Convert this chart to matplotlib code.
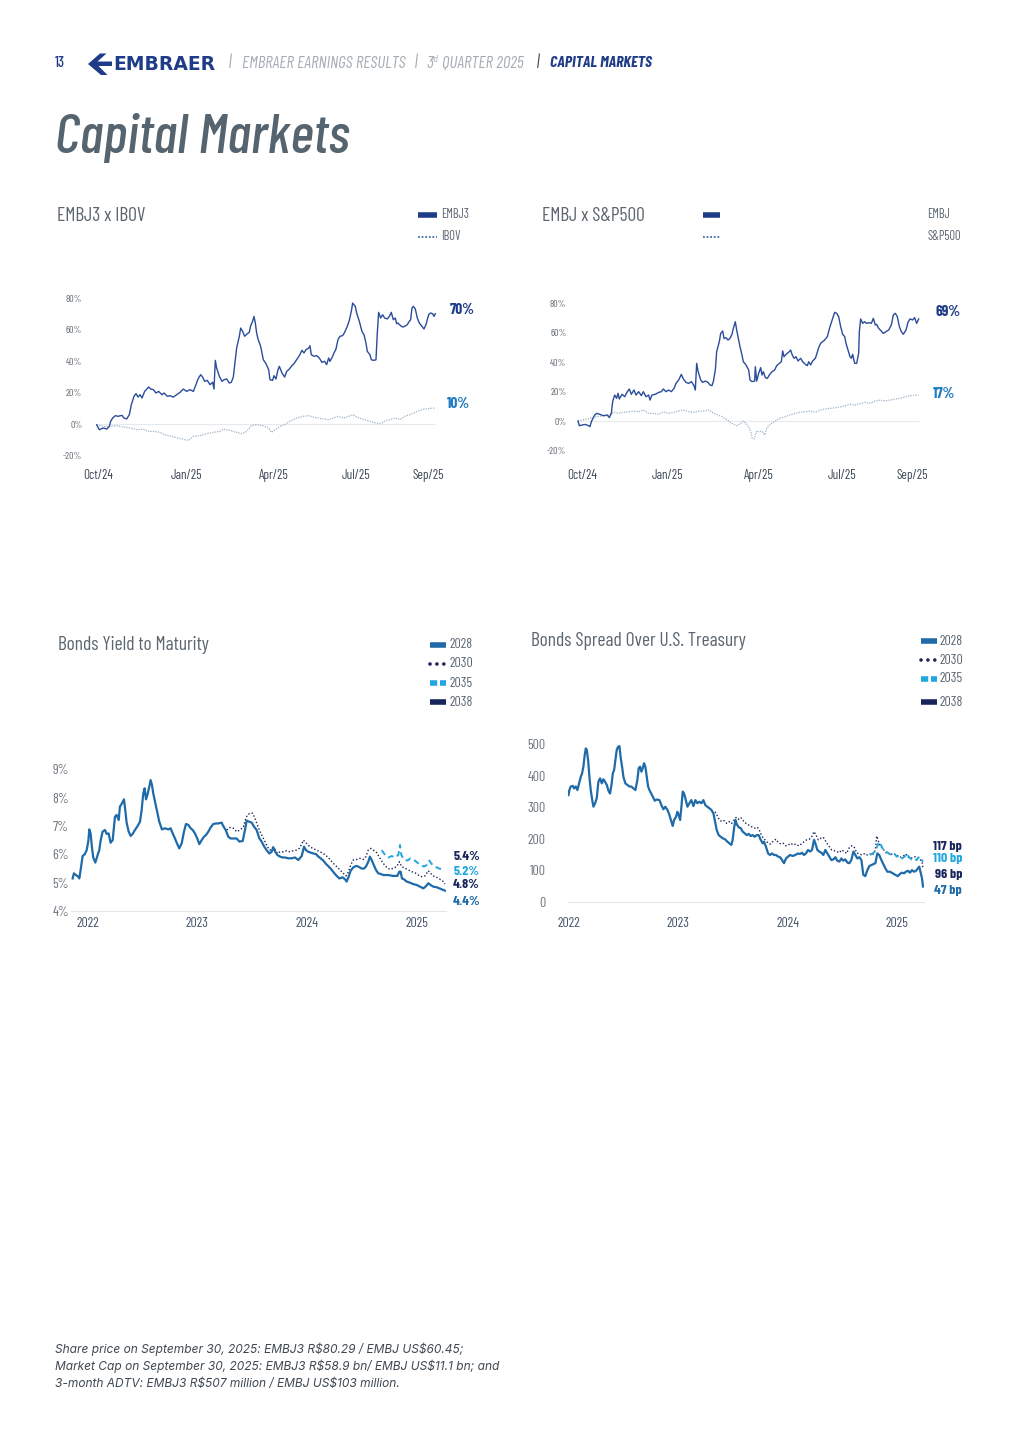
import matplotlib
matplotlib.use('Agg')
import matplotlib.pyplot as plt
from matplotlib import font_manager as fm
from matplotlib.lines import Line2D
from matplotlib.patches import Polygon

# share performance: trading-day index since Oct/24, % change
embj3_day = [0, 2, 5, 7.5, 9.5, 10.5, 12, 14, 16, 19,
             20.5, 22.5, 24.5, 26, 28, 29.5, 31, 32.5, 34, 36,
             39, 40.5, 42.5, 44.5, 46.5, 49, 50.5, 53, 55, 57.5,
             60, 62.5, 65, 67.5, 70, 72.5, 74.5, 76, 78, 79.5,
             81, 83, 85, 87, 88, 89, 90, 92, 94, 95.5,
             97.5, 99.5, 101, 102.5, 104, 105, 107, 108, 109.5, 111,
             113, 114.5, 115.5, 117, 118, 119, 120, 121, 123, 125,
             127, 129, 130, 132, 133, 134.5, 136, 137, 139, 141,
             142.5, 144.5, 146, 148, 150, 152, 154, 155.5, 157, 159,
             160, 161, 163, 165, 167, 169, 171, 172.5, 174, 175,
             177, 178, 179.5, 181, 182.5, 184.5, 186, 188, 189.5, 191,
             192, 194, 195, 197, 199, 200.5, 202, 203, 205, 206,
             208, 209.5, 210.5, 211.5, 213, 214.5, 216, 218, 219.5, 221,
             222.5, 224, 225, 226, 228, 229.5, 231, 233, 234.5, 235.5,
             236.5, 237.5, 239, 240.5, 242, 244, 245.5, 247, 249, 250.5,
             252, 253, 254]
embj3_pct = [-0.5, -3.6, -2.5, -3.2, -1.5, 1.7, 3.8, 5.3, 4.9, 5.5,
             3.8, 3.2, 5.9, 12.3, 17.6, 19.3, 17.1, 18.6, 16.5, 20.7,
             23.5, 22.2, 21.8, 19.7, 20.7, 18.6, 19.7, 17.6, 18.0, 17.1,
             18.6, 20.1, 22.2, 20.7, 21.8, 20.7, 25.0, 28.6, 31.3, 29.8,
             27.1, 27.7, 25.0, 26.5, 22.2, 40.4, 35.5, 30.3, 27.1, 28.1,
             28.6, 26.0, 26.5, 29.8, 40.8, 48.2, 55.7, 60.9, 58.8, 55.7,
             57.3, 58.2, 62.4, 65.2, 68.3, 64.1, 57.8, 54.0, 49.3, 40.8,
             38.3, 34.5, 28.1, 27.7, 30.7, 28.6, 34.5, 36.6, 32.4, 29.8,
             33.4, 34.9, 36.6, 38.3, 40.8, 43.4, 46.8, 45.1, 47.2, 48.2,
             49.7, 44.0, 43.0, 43.4, 41.9, 39.1, 39.8, 37.7, 41.9, 39.8,
             43.0, 45.1, 47.6, 53.5, 55.7, 56.1, 58.2, 62.0, 65.8, 71.5,
             76.8, 74.7, 70.5, 65.2, 58.8, 56.7, 51.4, 46.1, 44.0, 40.8,
             40.4, 40.8, 57.8, 70.9, 67.3, 69.4, 67.3, 66.7, 68.3, 70.9,
             66.2, 67.3, 63.7, 64.1, 62.4, 61.6, 62.0, 63.1, 65.2, 66.2,
             73.6, 74.7, 73.0, 67.3, 64.1, 62.0, 60.3, 63.1, 69.4, 70.5,
             70.0, 68.3, 70.0]

ibov_day = [0, 5, 10, 15, 20, 25, 30, 35, 39, 42.5,
            47.5, 51, 56, 61, 66, 69, 72.5, 77.5, 82.5, 87.5,
            92.5, 95, 100, 105, 109, 112.5, 116, 120, 125, 129,
            131, 134, 137.5, 141, 145, 150, 155, 159, 162.5, 166,
            170, 174, 177.5, 181, 185, 189, 192.5, 195, 199, 202.5,
            207.5, 212.5, 216, 220, 224, 227.5, 231, 235, 239, 242.5,
            246, 250, 254]
ibov_pct = [-0.4, -1.5, -1.5, -1.1, -1.9, -2.5, -3.6, -3.2, -4.7, -4.7,
            -5.3, -6.8, -7.8, -8.9, -9.9, -10.4, -7.8, -7.4, -6.1, -5.3,
            -4.7, -3.2, -4.0, -5.3, -6.1, -4.7, -1.1, -0.4, -1.1, -2.5,
            -5.3, -3.6, -1.5, -0.4, 1.7, 3.8, 4.9, 5.3, 4.4, 3.8,
            3.2, 2.8, 3.8, 4.9, 3.8, 4.9, 5.9, 4.4, 3.2, 2.3,
            1.1, 0.2, 1.7, 2.8, 3.8, 2.8, 4.9, 5.9, 7.4, 8.7,
            9.5, 9.9, 10.2]

embj_day = [0, 1, 3, 5.5, 8, 9, 10, 11, 12.5, 14,
            16.5, 19, 22, 23.5, 25, 26, 27.5, 29, 30, 31,
            33, 35, 37, 38.5, 40, 42, 43.5, 45.5, 47.5, 49,
            51, 53, 54, 55.5, 58, 60.5, 62.5, 64, 66, 68,
            70, 72, 73.5, 75.5, 77.5, 79, 81, 83, 85, 87,
            88, 89, 90, 92, 93.5, 95.5, 97.5, 99, 100.5, 101.5,
            103, 104, 106, 107, 108.5, 109.5, 111, 112.5, 114, 115.5,
            116.5, 118, 119, 120.5, 121.5, 123, 124, 126, 128, 129,
            130.5, 132.5, 133, 134, 135.5, 137, 138, 139, 140.5, 142,
            143.5, 145.5, 147.5, 149, 151, 152.5, 153.5, 154.5, 156, 158,
            159.5, 160.5, 162, 163.5, 165, 167, 168.5, 170.5, 172, 173,
            174.5, 176, 178, 179, 180.5, 182, 183.5, 185, 187, 188,
            189, 191, 192.5, 194, 195.5, 197, 198.5, 200, 201, 202.5,
            204, 205, 206, 207.5, 209, 210.5, 211, 212, 213.5, 215,
            216.5, 218.5, 220, 221.5, 223, 224, 225.5, 227.5, 229, 231,
            233, 235, 236.5, 238, 239.5, 241, 242.5, 244, 246, 247.5,
            249, 251, 252.5, 254, 255.5]
embj_pct = [0, -3.2, -2.7, -2.3, -3.2, -3.8, -0.5, 1.4, 4.1, 5.2,
            4.5, 3.6, 4.1, 2.3, 5.2, 13.1, 17.6, 15.4, 18.8, 14.9,
            18.1, 16.5, 19.9, 21.7, 18.1, 21.0, 17.6, 19.9, 17.2, 19.9,
            16.5, 17.6, 14.2, 17.6, 18.1, 19.4, 19.9, 21.7, 19.9, 21.0,
            19.9, 22.1, 25.5, 27.8, 31.6, 28.5, 26.2, 25.5, 26.7, 24.0,
            21.0, 39.1, 33.9, 27.8, 26.2, 27.1, 26.2, 24.4, 24.0, 26.7,
            34.6, 47.0, 53.8, 59.4, 61.0, 56.0, 56.5, 54.9, 56.0, 58.8,
            62.8, 67.3, 61.7, 54.9, 50.4, 44.7, 40.2, 38.0, 34.6, 27.8,
            26.7, 27.1, 36.8, 27.1, 32.3, 36.2, 31.2, 33.4, 29.4, 28.9,
            31.2, 33.4, 34.6, 37.5, 39.1, 40.2, 47.5, 43.6, 45.2, 46.6,
            48.1, 45.2, 42.5, 43.6, 40.7, 42.5, 40.2, 38.4, 37.5, 40.2,
            38.0, 40.7, 42.5, 45.2, 49.7, 52.7, 53.8, 54.9, 57.2, 60.6,
            64.0, 69.6, 73.7, 73.0, 70.7, 64.0, 58.8, 57.2, 52.7, 48.1,
            43.6, 42.5, 45.2, 39.1, 39.1, 45.9, 60.6, 69.2, 66.2, 67.3,
            66.2, 66.7, 66.2, 69.6, 65.1, 65.5, 62.8, 61.0, 59.4, 60.6,
            61.7, 65.1, 71.9, 73.0, 70.7, 64.0, 60.6, 58.8, 61.7, 66.9,
            69.2, 68.5, 70.1, 66.2, 69.2]

spx_day = [0, 3, 7, 10.5, 14, 18, 22, 24, 27, 30.5,
           34, 38, 42, 45.5, 49, 53, 57, 60.5, 64, 68,
           72, 75.5, 79, 83, 87, 90.5, 94, 98, 100.5, 104,
           108, 112, 115.5, 119, 122, 124, 127, 128.5, 130, 130.5,
           132, 133, 134, 135.5, 138, 140, 141.5, 144, 148, 151.5,
           155.5, 159, 163, 166.5, 170.5, 174, 178, 182, 185.5, 189,
           193, 197, 200.5, 204, 208, 212, 215.5, 219, 223, 226.5,
           230.5, 234, 238, 242, 245.5, 249.5, 253, 255.5]
spx_pct = [0, 0.7, 1.4, 2.3, 2.9, 3.4, 3.6, 4.5, 5.9, 5.2,
           5.9, 6.3, 6.8, 6.3, 7.5, 5.2, 5.2, 4.5, 6.3, 5.2,
           5.9, 6.8, 7.5, 6.3, 5.9, 6.8, 6.8, 7.5, 5.9, 4.5,
           2.9, 0.7, -1.6, -3.2, -1.6, 0, -2.7, -5.0, -8.4, -11.3,
           -12.2, -9.5, -6.8, -7.2, -6.8, -9.5, -5.0, -2.3, 0, 1.8,
           2.9, 4.1, 5.2, 5.9, 6.3, 6.8, 5.9, 7.5, 8.1, 8.6,
           9.0, 9.7, 10.4, 11.3, 10.8, 12.0, 12.7, 12.0, 13.6, 14.2,
           13.6, 14.2, 14.9, 15.4, 16.5, 17.2, 17.6, 17.6]

pct_ticks = [-20, 0, 20, 40, 60, 80]
month_labels = ['Oct/24', 'Jan/25', 'Apr/25', 'Jul/25', 'Sep/25']
ibov_month_pos = [1, 67.75, 133, 194.5, 248.5]
spx_month_pos = [3.5, 67.5, 135.75, 197.75, 251]
share_end_labels = ['70%', '10%', '69%', '17%']

# bonds yield to maturity (%), x in years
ytm_2028_x = [2021.863, 2021.875, 2021.893, 2021.915, 2021.924, 2021.936, 2021.954, 2021.975, 2021.991, 2022.006,
              2022.015, 2022.027, 2022.039, 2022.051, 2022.070, 2022.088, 2022.106, 2022.118, 2022.136, 2022.158,
              2022.173, 2022.191, 2022.209, 2022.228, 2022.249, 2022.264, 2022.283, 2022.294, 2022.313, 2022.331,
              2022.343, 2022.355, 2022.374, 2022.392, 2022.410, 2022.431, 2022.452, 2022.477, 2022.492, 2022.507,
              2022.519, 2022.532, 2022.544, 2022.562, 2022.574, 2022.586, 2022.598, 2022.617, 2022.635, 2022.653,
              2022.677, 2022.705, 2022.735, 2022.756, 2022.775, 2022.796, 2022.817, 2022.835, 2022.857, 2022.878,
              2022.896, 2022.917, 2022.939, 2022.957, 2022.978, 2022.999, 2023.018, 2023.039, 2023.060, 2023.078,
              2023.100, 2023.121, 2023.145, 2023.170, 2023.191, 2023.221, 2023.236, 2023.258, 2023.282, 2023.303,
              2023.328, 2023.358, 2023.383, 2023.413, 2023.434, 2023.449, 2023.473, 2023.495, 2023.516, 2023.540,
              2023.565, 2023.586, 2023.607, 2023.631, 2023.656, 2023.677, 2023.692, 2023.710, 2023.729, 2023.753,
              2023.777, 2023.799, 2023.829, 2023.859, 2023.890, 2023.920, 2023.951, 2023.972, 2023.990, 2024.011,
              2024.033, 2024.057, 2024.081, 2024.103, 2024.124, 2024.148, 2024.173, 2024.197, 2024.221, 2024.245,
              2024.270, 2024.294, 2024.324, 2024.346, 2024.361, 2024.379, 2024.397, 2024.421, 2024.446, 2024.467,
              2024.497, 2024.519, 2024.537, 2024.558, 2024.573, 2024.589, 2024.604, 2024.628, 2024.649, 2024.671,
              2024.695, 2024.741, 2024.780, 2024.823, 2024.841, 2024.853, 2024.865, 2024.883, 2024.908, 2024.938,
              2024.968, 2024.999, 2025.029, 2025.060, 2025.084, 2025.105, 2025.126, 2025.151, 2025.181, 2025.212,
              2025.242, 2025.257]
ytm_2028 = [5.15, 5.33, 5.27, 5.21, 5.15, 5.45, 5.94, 6.01, 6.15, 6.46,
            6.88, 6.74, 6.25, 5.89, 5.71, 5.94, 6.15, 6.48, 6.80, 6.86,
            6.72, 6.74, 6.41, 6.50, 7.33, 7.39, 7.21, 7.68, 7.80, 7.94,
            7.56, 7.12, 6.80, 6.65, 6.72, 6.86, 6.98, 7.15, 7.56, 8.15,
            8.33, 7.94, 8.09, 8.39, 8.62, 8.45, 8.15, 7.80, 7.45, 7.15,
            6.88, 6.92, 6.88, 6.92, 6.74, 6.56, 6.36, 6.21, 6.39, 6.80,
            7.07, 7.04, 6.92, 6.86, 6.74, 6.56, 6.36, 6.50, 6.62, 6.68,
            6.80, 6.95, 7.07, 7.09, 7.09, 7.12, 7.00, 6.86, 6.62, 6.56,
            6.56, 6.56, 6.45, 6.47, 6.86, 7.19, 7.15, 7.12, 6.98, 6.86,
            6.56, 6.45, 6.29, 6.15, 6.03, 6.09, 6.25, 6.09, 5.98, 5.92,
            5.89, 5.89, 5.86, 5.86, 5.89, 5.80, 5.94, 6.27, 6.15, 6.09,
            6.06, 6.03, 6.01, 5.92, 5.86, 5.78, 5.66, 5.57, 5.47, 5.35,
            5.24, 5.15, 5.19, 5.12, 5.04, 5.21, 5.42, 5.54, 5.59, 5.57,
            5.50, 5.50, 5.57, 5.74, 5.92, 5.80, 5.66, 5.45, 5.33, 5.31,
            5.27, 5.27, 5.24, 5.24, 5.39, 5.39, 5.15, 5.12, 5.04, 5.00,
            4.95, 4.92, 4.86, 4.80, 4.88, 4.98, 4.92, 4.86, 4.84, 4.79,
            4.74, 4.72]
ytm_2030_x = [2023.267, 2023.297, 2023.328, 2023.358, 2023.389, 2023.419, 2023.437, 2023.455, 2023.480, 2023.504,
              2023.525, 2023.547, 2023.571, 2023.595, 2023.616, 2023.638, 2023.662, 2023.686, 2023.707, 2023.729,
              2023.753, 2023.783, 2023.814, 2023.844, 2023.875, 2023.905, 2023.929, 2023.951, 2023.966, 2023.990,
              2024.020, 2024.051, 2024.087, 2024.118, 2024.148, 2024.178, 2024.209, 2024.239, 2024.270, 2024.300,
              2024.330, 2024.355, 2024.379, 2024.397, 2024.421, 2024.452, 2024.482, 2024.512, 2024.537, 2024.558,
              2024.580, 2024.604, 2024.634, 2024.665, 2024.695, 2024.725, 2024.756, 2024.786, 2024.817, 2024.841,
              2024.862, 2024.893, 2024.923, 2024.953, 2024.984, 2025.014, 2025.045, 2025.075, 2025.105, 2025.126,
              2025.151, 2025.181, 2025.212, 2025.242, 2025.257]
ytm_2030 = [6.86, 6.95, 6.92, 6.80, 6.86, 6.95, 7.21, 7.39, 7.45, 7.45,
            7.27, 7.04, 6.80, 6.62, 6.45, 6.27, 6.15, 6.25, 6.18, 6.03,
            6.09, 6.09, 6.13, 6.09, 6.13, 6.15, 6.21, 6.36, 6.50, 6.41,
            6.29, 6.21, 6.15, 6.09, 6.03, 5.94, 5.82, 5.68, 5.57, 5.45,
            5.33, 5.24, 5.39, 5.62, 5.80, 5.82, 5.86, 5.82, 5.92, 6.15,
            6.21, 6.15, 6.06, 5.86, 5.68, 5.54, 5.47, 5.51, 5.57, 5.74,
            5.57, 5.51, 5.45, 5.39, 5.35, 5.27, 5.21, 5.24, 5.42, 5.33,
            5.24, 5.19, 5.12, 5.04, 4.95]
ytm_2035_x = [2024.680, 2024.711, 2024.741, 2024.771, 2024.802, 2024.832, 2024.847, 2024.859, 2024.883, 2024.914,
              2024.944, 2024.975, 2025.005, 2025.035, 2025.066, 2025.090, 2025.114, 2025.136, 2025.166, 2025.197,
              2025.227, 2025.248]
ytm_2035 = [6.15, 5.98, 5.89, 5.94, 5.89, 5.98, 6.33, 5.98, 5.82, 5.78,
            5.86, 5.80, 5.71, 5.62, 5.57, 5.62, 5.78, 5.66, 5.57, 5.51,
            5.47, 5.39]
ytm_ticks = [4, 5, 6, 7, 8, 9]
ytm_end_labels = ['5.4%', '5.2%', '4.8%', '4.4%']

# bonds spread over U.S. Treasury (bp)
spr_2028_x = [2021.994, 2022.003, 2022.015, 2022.034, 2022.046, 2022.061, 2022.076, 2022.092, 2022.107, 2022.119,
              2022.131, 2022.143, 2022.153, 2022.162, 2022.174, 2022.186, 2022.198, 2022.214, 2022.223, 2022.238,
              2022.253, 2022.268, 2022.284, 2022.299, 2022.314, 2022.329, 2022.345, 2022.363, 2022.375, 2022.390,
              2022.400, 2022.412, 2022.424, 2022.436, 2022.448, 2022.461, 2022.473, 2022.485, 2022.497, 2022.515,
              2022.534, 2022.552, 2022.570, 2022.589, 2022.607, 2022.625, 2022.637, 2022.650, 2022.662, 2022.674,
              2022.686, 2022.698, 2022.711, 2022.723, 2022.735, 2022.747, 2022.766, 2022.784, 2022.802, 2022.827,
              2022.845, 2022.863, 2022.881, 2022.900, 2022.918, 2022.936, 2022.948, 2022.961, 2022.979, 2022.991,
              2023.003, 2023.016, 2023.028, 2023.040, 2023.052, 2023.064, 2023.083, 2023.101, 2023.119, 2023.138,
              2023.156, 2023.174, 2023.193, 2023.211, 2023.229, 2023.247, 2023.266, 2023.284, 2023.302, 2023.321,
              2023.336, 2023.351, 2023.369, 2023.388, 2023.406, 2023.427, 2023.449, 2023.467, 2023.485, 2023.497,
              2023.510, 2023.522, 2023.534, 2023.552, 2023.571, 2023.589, 2023.607, 2023.626, 2023.644, 2023.662,
              2023.680, 2023.699, 2023.717, 2023.735, 2023.754, 2023.772, 2023.784, 2023.802, 2023.821, 2023.839,
              2023.857, 2023.876, 2023.894, 2023.912, 2023.931, 2023.949, 2023.967, 2023.985, 2024.004, 2024.022,
              2024.046, 2024.071, 2024.095, 2024.113, 2024.132, 2024.150, 2024.168, 2024.187, 2024.205, 2024.223,
              2024.242, 2024.254, 2024.272, 2024.290, 2024.309, 2024.327, 2024.345, 2024.364, 2024.382, 2024.400,
              2024.419, 2024.437, 2024.455, 2024.474, 2024.492, 2024.510, 2024.528, 2024.547, 2024.565, 2024.583,
              2024.602, 2024.620, 2024.638, 2024.657, 2024.675, 2024.693, 2024.711, 2024.730, 2024.748, 2024.766,
              2024.784, 2024.803, 2024.821, 2024.839, 2024.858, 2024.876, 2024.894, 2024.913, 2024.937, 2024.961,
              2024.986, 2025.010, 2025.028, 2025.047, 2025.065, 2025.083, 2025.102, 2025.120, 2025.138, 2025.157,
              2025.175, 2025.193, 2025.205, 2025.218, 2025.230, 2025.239]
spr_2028 = [339, 355, 366, 368, 360, 366, 355, 376, 397, 408,
            429, 466, 487, 482, 450, 397, 355, 318, 302, 313,
            329, 381, 392, 376, 389, 381, 371, 350, 344, 376,
            408, 418, 450, 482, 492, 494, 455, 429, 397, 376,
            371, 366, 366, 360, 355, 387, 424, 429, 413, 424,
            440, 429, 397, 366, 355, 347, 334, 321, 325, 323,
            307, 294, 302, 292, 276, 255, 241, 260, 270, 286,
            276, 260, 302, 350, 344, 329, 302, 313, 323, 304,
            323, 313, 318, 313, 323, 307, 302, 297, 292, 281,
            255, 228, 212, 207, 202, 199, 191, 186, 181, 197,
            234, 260, 247, 237, 234, 223, 218, 212, 216, 209,
            212, 207, 212, 212, 197, 186, 191, 175, 154, 149,
            154, 149, 149, 144, 142, 133, 123, 138, 144, 149,
            146, 149, 154, 152, 156, 149, 154, 165, 160, 165,
            197, 186, 165, 160, 156, 149, 165, 154, 144, 133,
            135, 142, 131, 128, 138, 131, 135, 125, 123, 133,
            160, 149, 138, 142, 133, 86, 82, 101, 114, 117,
            120, 123, 154, 149, 133, 120, 107, 96, 96, 91,
            86, 82, 89, 93, 91, 96, 99, 93, 101, 96,
            99, 107, 112, 93, 75, 49]
spr_2030_x = [2023.336, 2023.357, 2023.376, 2023.397, 2023.418, 2023.443, 2023.467, 2023.488, 2023.510, 2023.528,
              2023.549, 2023.571, 2023.589, 2023.610, 2023.632, 2023.656, 2023.680, 2023.702, 2023.723, 2023.741,
              2023.760, 2023.778, 2023.802, 2023.824, 2023.845, 2023.870, 2023.894, 2023.915, 2023.937, 2023.961,
              2023.985, 2024.007, 2024.028, 2024.052, 2024.077, 2024.101, 2024.126, 2024.150, 2024.174, 2024.199,
              2024.220, 2024.242, 2024.260, 2024.281, 2024.303, 2024.327, 2024.351, 2024.376, 2024.403, 2024.425,
              2024.449, 2024.473, 2024.495, 2024.516, 2024.540, 2024.565, 2024.586, 2024.608, 2024.632, 2024.657,
              2024.681, 2024.708, 2024.730, 2024.754, 2024.778, 2024.803, 2024.815, 2024.827, 2024.845, 2024.870,
              2024.891, 2024.913, 2024.937, 2024.961, 2024.986, 2025.010, 2025.035, 2025.059, 2025.083, 2025.105,
              2025.126, 2025.151, 2025.175, 2025.193, 2025.211, 2025.230, 2025.239]
spr_2030 = [286, 273, 260, 255, 258, 249, 255, 249, 260, 268,
            262, 268, 260, 251, 247, 241, 237, 234, 237, 228,
            212, 202, 194, 186, 184, 194, 199, 188, 184, 186,
            178, 181, 186, 181, 184, 178, 184, 191, 197, 199,
            207, 223, 212, 197, 202, 205, 191, 178, 165, 163,
            160, 156, 165, 160, 154, 173, 178, 175, 156, 152,
            149, 154, 149, 152, 149, 165, 209, 197, 178, 170,
            160, 152, 156, 149, 152, 146, 142, 146, 152, 142,
            138, 142, 144, 138, 135, 128, 107]
spr_2035_x = [2024.754, 2024.778, 2024.803, 2024.821, 2024.839, 2024.858, 2024.876, 2024.900, 2024.925, 2024.949,
              2024.974, 2024.998, 2025.022, 2025.047, 2025.071, 2025.089, 2025.108, 2025.132, 2025.157, 2025.181,
              2025.205, 2025.224, 2025.239]
spr_2035 = [149, 154, 160, 178, 191, 178, 165, 160, 154, 149,
            154, 144, 146, 138, 144, 154, 144, 135, 138, 133,
            144, 135, 128]
spr_ticks = [0, 100, 200, 300, 400, 500]
spr_end_labels = ['117 bp', '110 bp', '96 bp', '47 bp']
year_ticks = [2022, 2023, 2024, 2025]
bond_names = ['2028', '2030', '2035', '2038']

# colours
NAVY = '#1f3c88'
EMB_LINE = '#2b4c9b'
IDX_LINE = '#9db3c6'
IDX_LBL = '#1f7cc0'
B28 = '#1f6aa8'
B30 = '#1b2356'
B35 = '#22a6df'
B38 = '#18245c'
GREY_T = '#5b6670'


# pick installed families (narrow grotesque for the page, plain sans for notes)
def has_italic(name):
    return any(f.name == name and f.style == 'italic' for f in fm.fontManager.ttflist)


_have = {f.name for f in fm.fontManager.ttflist}
COND = next((n for n in ['Barlow Condensed', 'Roboto Condensed', 'Archivo Narrow', 'PT Sans Narrow',
                         'Fira Sans Condensed', 'IBM Plex Sans Condensed', 'Liberation Sans Narrow']
             if n in _have), 'DejaVu Sans')
NOTE = next((n for n in ['Inter', 'Lato', 'Open Sans', 'Roboto', 'Noto Sans'] if n in _have and has_italic(n)),
            'DejaVu Sans')

W, H = 1015, 1447
plt.rcParams['font.family'] = [COND, 'DejaVu Sans']

fig = plt.figure(figsize=(W / 100, H / 100), dpi=100)


def px_axes(left, top, right, bottom):
    return fig.add_axes([left / W, 1 - bottom / H, (right - left) / W, (bottom - top) / H])


def put(x, y, s, **kw):
    kw.setdefault('va', 'center')
    return fig.text(x / W, 1 - y / H, s, **kw)


def key(x0, x1, y, **kw):
    fig.add_artist(Line2D([x0 / W, x1 / W], [1 - y / H, 1 - y / H], **kw))


def clean(ax):
    for s in ax.spines.values():
        s.set_visible(False)
    ax.patch.set_alpha(0)


# ---- header ----
put(55, 63, '13', fontsize=10.5, color=NAVY, fontweight='medium')
logo = [(88, 64), (100, 53.5), (106.5, 53.5), (97.5, 61.5), (112, 61.5), (112, 66),
        (98.5, 66), (107.5, 75), (101, 75)]
fig.add_artist(Polygon([(x / W, 1 - y / H) for x, y in logo], closed=True,
                       transform=fig.transFigure, color=NAVY, lw=0))
put(113, 64, 'EMBRAER', fontsize=13.5, fontweight='heavy', color=NAVY, family='DejaVu Sans')
hdr = dict(fontsize=12.3, style='italic', color='#a5acb4')
put(229, 63, '|', **hdr)
put(242, 63, 'EMBRAER EARNINGS RESULTS', **hdr)
put(415, 63, '|', **hdr)
put(426, 63, '3', **hdr)
put(432, 59, 'rd', fontsize=7, style='italic', color='#a5acb4')
put(442, 63, 'QUARTER 2025', **hdr)
put(537, 63, '|', fontsize=12.3, style='italic', color='#3d4756')
put(550, 63, 'CAPITAL MARKETS', fontsize=11.5, style='italic', fontweight='bold', color=NAVY)

put(55, 153, 'Capital Markets', fontsize=40.5, style='italic', fontweight='medium', color='#55646f',
    va='baseline')

sub = dict(fontsize=14, color=GREY_T, va='baseline')
put(57, 221, 'EMBJ3 x IBOV', **sub)
put(542, 221, 'EMBJ x S&P500', **sub)
put(58, 650, 'Bonds Yield to Maturity', **sub)
put(531, 646, 'Bonds Spread Over U.S. Treasury', **sub)


# ---- share charts ----
def share_axes(ax, pos, ypad, xpad):
    clean(ax)
    ax.set_xlim(-5, 260)
    ax.set_ylim(-25, 90)
    ax.set_yticks(pct_ticks)
    ax.set_yticklabels([f'{v}%' for v in pct_ticks])
    ax.set_xticks(pos)
    ax.set_xticklabels(month_labels)
    ax.tick_params(axis='y', length=0, labelsize=7.2, colors='#5f6770', pad=ypad)
    ax.tick_params(axis='x', length=0, labelsize=9.5, colors='#3c4858', pad=xpad)


ax1 = px_axes(90, 282.25, 443.3, 463.4)
share_axes(ax1, ibov_month_pos, 5.5, 4)
ax1.hlines(0, embj3_day[0], embj3_day[-1], color='#e6eaee', lw=0.8)
ax1.plot(ibov_day, ibov_pct, color=IDX_LINE, lw=0.9, ls=(0, (1, 1)))
ax1.plot(embj3_day, embj3_pct, color=EMB_LINE, lw=1.0)
ax1.text(265, 72.4, share_end_labels[0], fontsize=11, fontweight='bold', color=NAVY, va='center', clip_on=False)
ax1.text(262.7, 12.7, share_end_labels[1], fontsize=11, fontweight='bold', color=IDX_LBL, va='center',
         clip_on=False)

ax2 = px_axes(571.33, 288.25, 924.67, 457.9)
share_axes(ax2, spx_month_pos, 3.5, 8)
ax2.hlines(0, embj_day[0], embj_day[-1], color='#e6eaee', lw=0.8)
ax2.plot(spx_day, spx_pct, color=IDX_LINE, lw=0.9, ls=(0, (1, 1)))
ax2.plot(embj_day, embj_pct, color=EMB_LINE, lw=1.0)
ax2.text(267.75, 73.9, share_end_labels[2], fontsize=11, fontweight='bold', color=NAVY, va='center',
         clip_on=False)
ax2.text(266.25, 18.3, share_end_labels[3], fontsize=11, fontweight='bold', color=IDX_LBL, va='center',
         clip_on=False)

# share legends
key(418, 437, 215, color=NAVY, lw=4, solid_capstyle='butt')
key(418, 437, 237, color='#3a6ea5', lw=1.3, ls=(0, (1, 1)))
put(441, 215, 'EMBJ3', fontsize=9, color=GREY_T)
put(441, 237, 'IBOV', fontsize=9, color=GREY_T)
key(703, 720, 215, color=NAVY, lw=4, solid_capstyle='butt')
key(703, 720, 237, color='#3a6ea5', lw=1.3, ls=(0, (1, 1)))
put(927, 215, 'EMBJ', fontsize=9, color=GREY_T)
put(927, 237, 'S&P500', fontsize=9, color=GREY_T)


# ---- bond charts ----
def bond_axes(ax, ypad, xpad):
    clean(ax)
    ax.spines['bottom'].set_visible(True)
    ax.spines['bottom'].set_color('#e4e7ea')
    ax.spines['bottom'].set_linewidth(0.8)
    ax.set_xticks(year_ticks)
    ax.set_xticklabels([str(y) for y in year_ticks])
    ax.tick_params(axis='y', length=0, labelsize=10, colors='#6b737b', pad=ypad)
    ax.tick_params(axis='x', length=0, labelsize=10, colors='#44546a', pad=xpad)


ax3 = px_axes(71.2, 760.8, 446.4, 911.05)
bond_axes(ax3, 1.5, 4)
ax3.set_xlim(2021.85, 2025.27)
ax3.set_ylim(4, 9.3)
ax3.set_yticks(ytm_ticks)
ax3.set_yticklabels([f'{v}%' for v in ytm_ticks])
ax3.plot(ytm_2030_x, ytm_2030, color=B30, lw=1.0, ls=(0, (1, 1.5)))
ax3.plot(ytm_2035_x, ytm_2035, color=B35, lw=1.4, ls=(0, (3, 2)))
ax3.plot(ytm_2028_x, ytm_2028, color=B28, lw=1.6)
ytm_lbl_y = [5.91, 5.39, 4.92, 4.35]
for s, yy, c in zip(ytm_end_labels, ytm_lbl_y, [B38, B35, B38, B28]):
    ax3.text(2025.576, yy, s, fontsize=10, fontweight='bold', color=c, ha='right', va='center', clip_on=False)

ax4 = px_axes(568, 734.8, 924.2, 902)
bond_axes(ax4, 16, 11)
ax4.set_xlim(2021.99, 2025.25)
ax4.set_ylim(0, 530)
ax4.set_yticks(spr_ticks)
ax4.set_yticklabels([str(v) for v in spr_ticks])
ax4.plot(spr_2030_x, spr_2030, color=B30, lw=1.0, ls=(0, (1, 1.5)))
ax4.plot(spr_2035_x, spr_2035, color=B35, lw=1.4, ls=(0, (3, 2)))
ax4.plot(spr_2028_x, spr_2028, color=B28, lw=1.6)
spr_lbl_y = [177.5, 138.5, 87.8, 38.0]
for s, yy, c in zip(spr_end_labels, spr_lbl_y, [B38, B35, B38, B28]):
    ax4.text(2025.596, yy, s, fontsize=10, fontweight='bold', color=c, ha='right', va='center', clip_on=False)


# bond legends
def bond_legend(x0, x1, tx, ys):
    key(x0, x1, ys[0], color=B28, lw=4, solid_capstyle='butt')
    key(x0, x1, ys[1], color=B30, lw=2.6, ls=(0, (0.01, 1.9)), dash_capstyle='round')
    key(x0, x1, ys[2], color=B35, lw=4, ls=(0, (1.3, 0.5)), dash_capstyle='butt')
    key(x0, x1, ys[3], color=B38, lw=4, solid_capstyle='butt')
    for name, y in zip(bond_names, ys):
        put(tx, y, name, fontsize=10, color=GREY_T)


bond_legend(430, 446, 450, [645, 664, 683, 702])
bond_legend(921, 937, 940, [641, 660, 679, 702])

# ---- footnote ----
foot = dict(fontsize=8.6, style='italic', color='#3f4952', family=[NOTE, 'DejaVu Sans'])
put(55, 1349, r'Share price on September 30, 2025: EMBJ3 R\$80.29 / EMBJ US\$60.45;', **foot)
put(55, 1366, r'Market Cap on September 30, 2025: EMBJ3 R\$58.9 bn/ EMBJ US\$11.1 bn; and', **foot)
put(55, 1384, r'3-month ADTV: EMBJ3 R\$507 million / EMBJ US\$103 million.', **foot)

fig.savefig('out.png', dpi=100, facecolor='white')
